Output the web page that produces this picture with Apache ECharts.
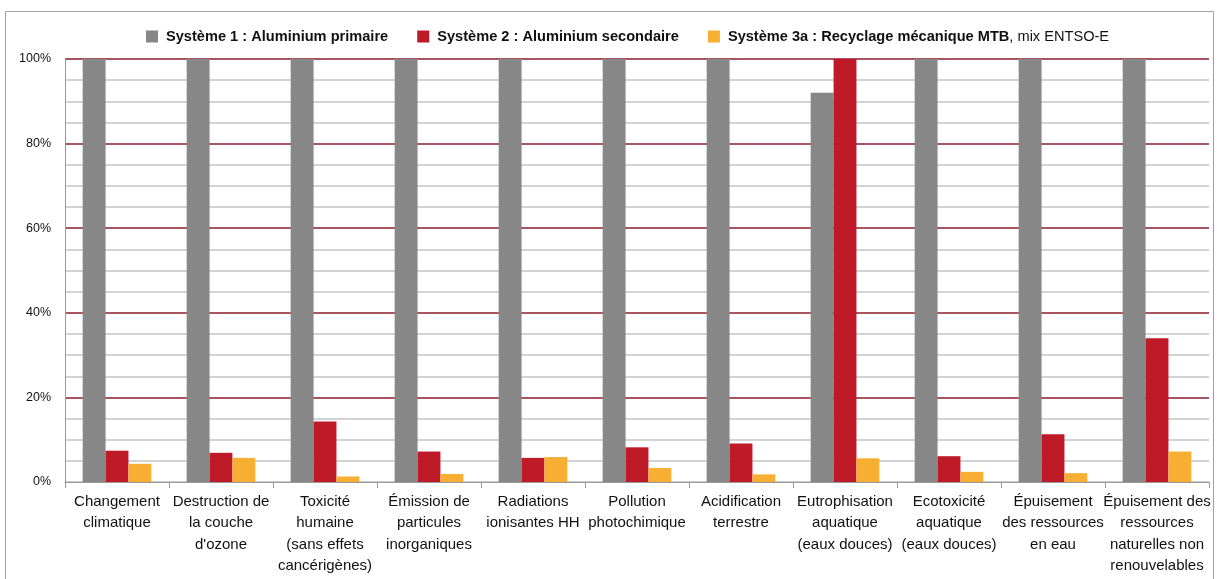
<!DOCTYPE html>
<html><head><meta charset="utf-8">
<script src="https://cdn.jsdelivr.net/npm/echarts@6/dist/echarts.min.js"></script>
<style>html,body{margin:0;padding:0;background:#fff}#c{width:1217px;height:579px}</style>
</head><body><div id="c"></div>
<script>
const categories = [
  "Changement\nclimatique",
  "Destruction de\nla couche\nd'ozone",
  "Toxicité\nhumaine\n(sans effets\ncancérigènes)",
  "Émission de\nparticules\ninorganiques",
  "Radiations\nionisantes HH",
  "Pollution\nphotochimique",
  "Acidification\nterrestre",
  "Eutrophisation\naquatique\n(eaux douces)",
  "Ecotoxicité\naquatique\n(eaux douces)",
  "Épuisement\ndes ressources\nen eau",
  "Épuisement des\nressources\nnaturelles non\nrenouvelables"
];
const seriesNames = [
  "Système 1 : Aluminium primaire",
  "Système 2 : Aluminium secondaire",
  "Système 3a : Recyclage mécanique MTB, mix ENTSO-E"
];
const systeme1 = [100, 100, 100, 100, 100, 100, 100, 92, 100, 100, 100];
const systeme2 = [7.4, 6.9, 14.3, 7.2, 5.7, 8.2, 9.1, 100, 6.1, 11.3, 34.0];
const systeme3a = [4.3, 5.7, 1.3, 1.9, 5.9, 3.3, 1.8, 5.6, 2.4, 2.1, 7.2];
const yTicks = [0, 20, 40, 60, 80, 100];

const FONT = "'Liberation Sans',Arial,sans-serif";
const colors = ['#878787', '#BE1A28', '#F7AF33'];
const MAJOR = '#8d1c2c', MINOR = '#c4c4c4';
const splitColors = [];
for (let v = 0; v <= 100; v += 5) splitColors.push(v === 0 ? '#bdbdbd' : (v % 20 === 0 ? MAJOR : MINOR));
const chart = echarts.init(document.getElementById('c'), null, {renderer: 'canvas'});
const mk = (name, data, color) => ({
  name, type: 'bar', data, barGap: 0, barCategoryGap: '34%',
  itemStyle: {color}, emphasis: {disabled: true}
});
const LF = 14.6;
chart.setOption({
  animation: false,
  textStyle: {fontFamily: FONT},
  graphic: [{type: 'rect', shape: {x: 5.5, y: 11.5, width: 1208, height: 600},
    style: {fill: 'none', stroke: '#a0a0a0', lineWidth: 1}, z: -1}],
  legend: {
    top: 24, left: 141, itemWidth: 12, itemHeight: 12, itemGap: 29, icon: 'rect',
    data: seriesNames,
    formatter: function (n) {
      if (n.indexOf(', mix') >= 0) {
        const p = n.split(', mix');
        return '{s|}{b|' + p[0] + '}{n|, mix' + p[1] + '}';
      }
      return '{s|}{b|' + n + '}';
    },
    textStyle: {
      fontFamily: FONT, fontSize: LF, color: '#111',
      rich: {s: {width: 3},
             b: {fontWeight: 'bold', fontSize: LF, color: '#111', fontFamily: FONT},
             n: {fontSize: LF, color: '#111', fontFamily: FONT}}
    }
  },
  grid: {left: 65, right: 8, top: 59, bottom: 97, containLabel: false},
  xAxis: {
    type: 'category', data: categories,
    axisLine: {lineStyle: {color: '#9a9a9a', width: 1}},
    axisTick: {show: true, length: 6, lineStyle: {color: '#9a9a9a'}},
    axisLabel: {color: '#111', fontSize: 15, lineHeight: 21.5, fontFamily: FONT, margin: 9, interval: 0}
  },
  yAxis: {
    type: 'value', min: 0, max: 100, interval: 5,
    axisLine: {show: true, lineStyle: {color: '#9a9a9a'}},
    axisTick: {show: false},
    axisLabel: {
      color: '#111', fontSize: 12.5, fontFamily: FONT, margin: 14,
      formatter: v => (yTicks.indexOf(v) >= 0 ? v + '%' : '')
    },
    splitLine: {lineStyle: {color: splitColors, width: 1.5}}
  },
  series: [
    mk(seriesNames[0], systeme1, colors[0]),
    mk(seriesNames[1], systeme2, colors[1]),
    mk(seriesNames[2], systeme3a, colors[2])
  ]
});
</script></body></html>
